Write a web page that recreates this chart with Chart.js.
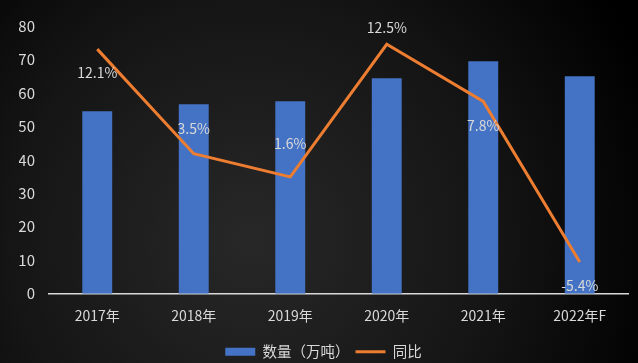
<!DOCTYPE html>
<html lang="zh-CN">
<head>
<meta charset="UTF-8">
<title>数量与同比</title>
<script src="https://cdn.jsdelivr.net/npm/chart.js"></script>
<style>
  html, body { margin: 0; padding: 0; background: #000; }
  #wrap { width: 638px; height: 363px; }
</style>
</head>
<body>
<div id="wrap"><canvas id="grafico"></canvas></div>
<script>
// dados
const anos = ['2017年', '2018年', '2019年', '2020年', '2021年', '2022年F'];
const quantidade = [54.5, 56.6, 57.5, 64.4, 69.5, 65.0];   // 万吨
const tongbi = [12.1, 3.5, 1.6, 12.5, 7.8, -5.4];          // %
const yTicks = [0, 10, 20, 30, 40, 50, 60, 70, 80];

// onde fica o rótulo de cada ponto (px relativo ao ponto)
const labelOffsetY = [24, -25, -33, -17, 24, 24];

const fonte = '"Noto Sans CJK SC", "Noto Sans", sans-serif';
const cinza = '#d9d9d9';

// fundo escuro com gradiente
const fundo = {
  id: 'fundo',
  beforeDraw(chart) {
    const c = chart.ctx;
    const g = c.createRadialGradient(250, 240, 10, 250, 240, 430);
    g.addColorStop(0, '#272727');
    g.addColorStop(0.55, '#151515');
    g.addColorStop(1, '#000000');
    c.save();
    c.fillStyle = g;
    c.fillRect(0, 0, chart.width, chart.height);
    c.restore();
  }
};

// rótulos de porcentagem da linha
const rotulos = {
  id: 'rotulos',
  afterDatasetsDraw(chart) {
    const c = chart.ctx;
    const meta = chart.getDatasetMeta(1);
    c.save();
    c.font = '14px ' + fonte;
    c.fillStyle = cinza;
    c.textAlign = 'center';
    c.textBaseline = 'middle';
    meta.data.forEach((pt, i) => {
      c.fillText(tongbi[i].toFixed(1) + '%', pt.x, pt.y + labelOffsetY[i]);
    });
    c.restore();
  }
};

const ctx = document.getElementById('grafico');
new Chart(ctx, {
  data: {
    labels: anos,
    datasets: [
      {
        type: 'bar',
        label: '数量（万吨）',
        data: quantidade,
        backgroundColor: '#4472c4',
        borderWidth: 0,
        barPercentage: 0.62,
        categoryPercentage: 0.5,
        yAxisID: 'y',
        order: 2
      },
      {
        type: 'line',
        label: '同比',
        data: tongbi,
        borderColor: '#ed7d31',
        backgroundColor: '#ed7d31',
        borderWidth: 3,
        pointRadius: 0,
        tension: 0,
        yAxisID: 'y2',
        order: 1
      }
    ]
  },
  options: {
    responsive: true,
    maintainAspectRatio: false,
    animation: false,
    layout: { padding: { top: 26, right: 10, left: 19, bottom: -6 } },
    scales: {
      x: {
        grid: { display: false, drawTicks: false },
        border: { display: true, color: '#d9d9d9', width: 1.5 },
        ticks: { color: cinza, font: { family: fonte, size: 14 }, padding: 14 }
      },
      y: {
        min: 0, max: 80,
        afterBuildTicks(axis) { axis.ticks = yTicks.map(v => ({ value: v })); },
        afterFit(axis) { axis.width = 30; },
        grid: { display: false, drawTicks: false },
        border: { display: false },
        ticks: { color: cinza, font: { family: fonte, size: 15 }, padding: 14 }
      },
      y2: {
        display: false,
        min: -8, max: 14
      }
    },
    plugins: {
      tooltip: { enabled: false },
      legend: {
        position: 'bottom',
        labels: {
          color: cinza,
          font: { family: fonte, size: 14.5 },
          usePointStyle: true,
          pointStyleWidth: 30,
          boxHeight: 8,
          padding: 6,
          generateLabels(chart) {
            return chart.data.datasets.map((ds, i) => ({
              text: ds.label,
              fillStyle: ds.type === 'bar' ? ds.backgroundColor : ds.borderColor,
              strokeStyle: ds.type === 'bar' ? ds.backgroundColor : ds.borderColor,
              lineWidth: ds.type === 'bar' ? 0 : 3,
              pointStyle: ds.type === 'bar' ? 'rect' : 'line',
              fontColor: cinza,
              datasetIndex: i,
              hidden: false
            }));
          }
        }
      }
    }
  },
  plugins: [fundo, rotulos]
});
</script>
</body>
</html>
